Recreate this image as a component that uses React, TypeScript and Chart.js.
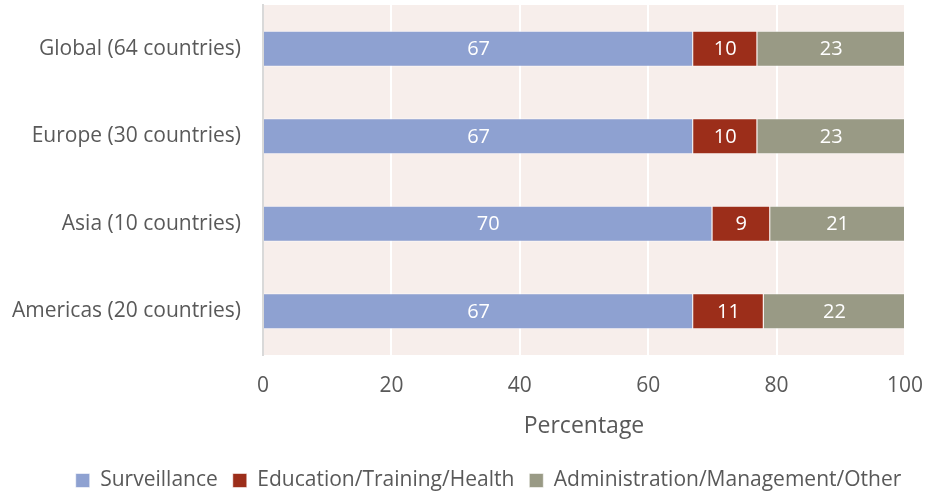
import React, { useEffect, useRef } from "react";
import { Chart, registerables } from "chart.js";

Chart.register(...registerables);

const categories = [
  "Global (64 countries)",
  "Europe (30 countries)",
  "Asia (10 countries)",
  "Americas (20 countries)",
];
const surveillance = [67, 67, 70, 67];
const education = [10, 10, 9, 11];
const administration = [23, 23, 21, 22];
const seriesNames = ["Surveillance", "Education/Training/Health", "Administration/Management/Other"];
const xTicks = [0, 20, 40, 60, 80, 100];

const FONT = "'Open Sans', sans-serif";

const bgPlugin = {
  id: "plotBg",
  beforeDraw(chart: any) {
    const { ctx, chartArea } = chart;
    ctx.save();
    ctx.fillStyle = "#F7EEEB";
    ctx.fillRect(chartArea.left, chartArea.top, chartArea.right - chartArea.left, chartArea.bottom - chartArea.top);
    ctx.restore();
  },
};

const labelPlugin = {
  id: "segLabels",
  afterDatasetsDraw(chart: any) {
    const { ctx } = chart;
    ctx.save();
    ctx.fillStyle = "#FFFFFF";
    ctx.font = `20px ${FONT}`;
    ctx.textAlign = "center";
    ctx.textBaseline = "middle";
    chart.data.datasets.forEach((ds: any, di: number) => {
      const meta = chart.getDatasetMeta(di);
      meta.data.forEach((el: any, i: number) => {
        const cx = (el.x + el.base) / 2;
        ctx.fillText(String(ds.data[i]), cx, el.y + 1);
      });
    });
    ctx.restore();
  },
};

export default function App() {
  const ref = useRef<HTMLCanvasElement>(null);
  useEffect(() => {
    document.body.style.margin = "0";
    const colors = ["#8EA1D1", "#9C2E1A", "#999A85"];
    const values = [surveillance, education, administration];
    const chart = new Chart(ref.current!, {
      type: "bar",
      data: {
        labels: categories,
        datasets: seriesNames.map((name, i) => ({
          label: name,
          data: values[i],
          backgroundColor: colors[i],
          borderColor: "rgba(255,255,255,0.55)",
          borderWidth: 1,
          categoryPercentage: 1,
          barPercentage: 0.41,
        })),
      },
      options: {
        indexAxis: "y",
        animation: false,
        responsive: false,
        layout: { autoPadding: false, padding: { left: 50, right: 0, top: 5, bottom: -8 } },
        plugins: {
          tooltip: { enabled: false },
          legend: {
            position: "bottom",
            labels: {
              font: { family: FONT, size: 21 },
              color: "#595959",
              boxWidth: 14,
              boxHeight: 14,
              padding: 15,
            },
          },
        },
        scales: {
          x: {
            stacked: true,
            min: 0,
            max: 100,
            afterBuildTicks: (s: any) => {
              s.ticks = xTicks.map((v) => ({ value: v }));
            },
            afterFit: (s: any) => {
              s.height = 100;
              s.paddingLeft = 0;
              s.paddingRight = 22;
            },
            grid: { color: "#FFFFFF", lineWidth: 2, drawTicks: false },
            border: { display: false },
            ticks: { font: { family: FONT, size: 21 }, color: "#595959", padding: 18 },
            title: {
              display: true,
              text: "Percentage",
              font: { family: FONT, size: 23 },
              color: "#595959",
              padding: { top: 10, bottom: 15 },
            },
          },
          y: {
            stacked: true,
            afterFit: (s: any) => {
              s.width = 213;
              s.paddingTop = 0;
              s.paddingBottom = 0;
              s._computeLabelArea = () => undefined;
            },
            grid: { display: false, drawTicks: false },
            border: { display: true, color: "#D9D9D9", width: 2 },
            ticks: { font: { family: FONT, size: 21 }, color: "#595959", padding: 22 },
          },
        },
      },
      plugins: [bgPlugin, labelPlugin],
    });
    return () => chart.destroy();
  }, []);
  return (
    <div style={{ position: "absolute", left: 0, top: 0, width: 927, height: 493 }}>
      <canvas ref={ref} width={927} height={493} />
    </div>
  );
}
